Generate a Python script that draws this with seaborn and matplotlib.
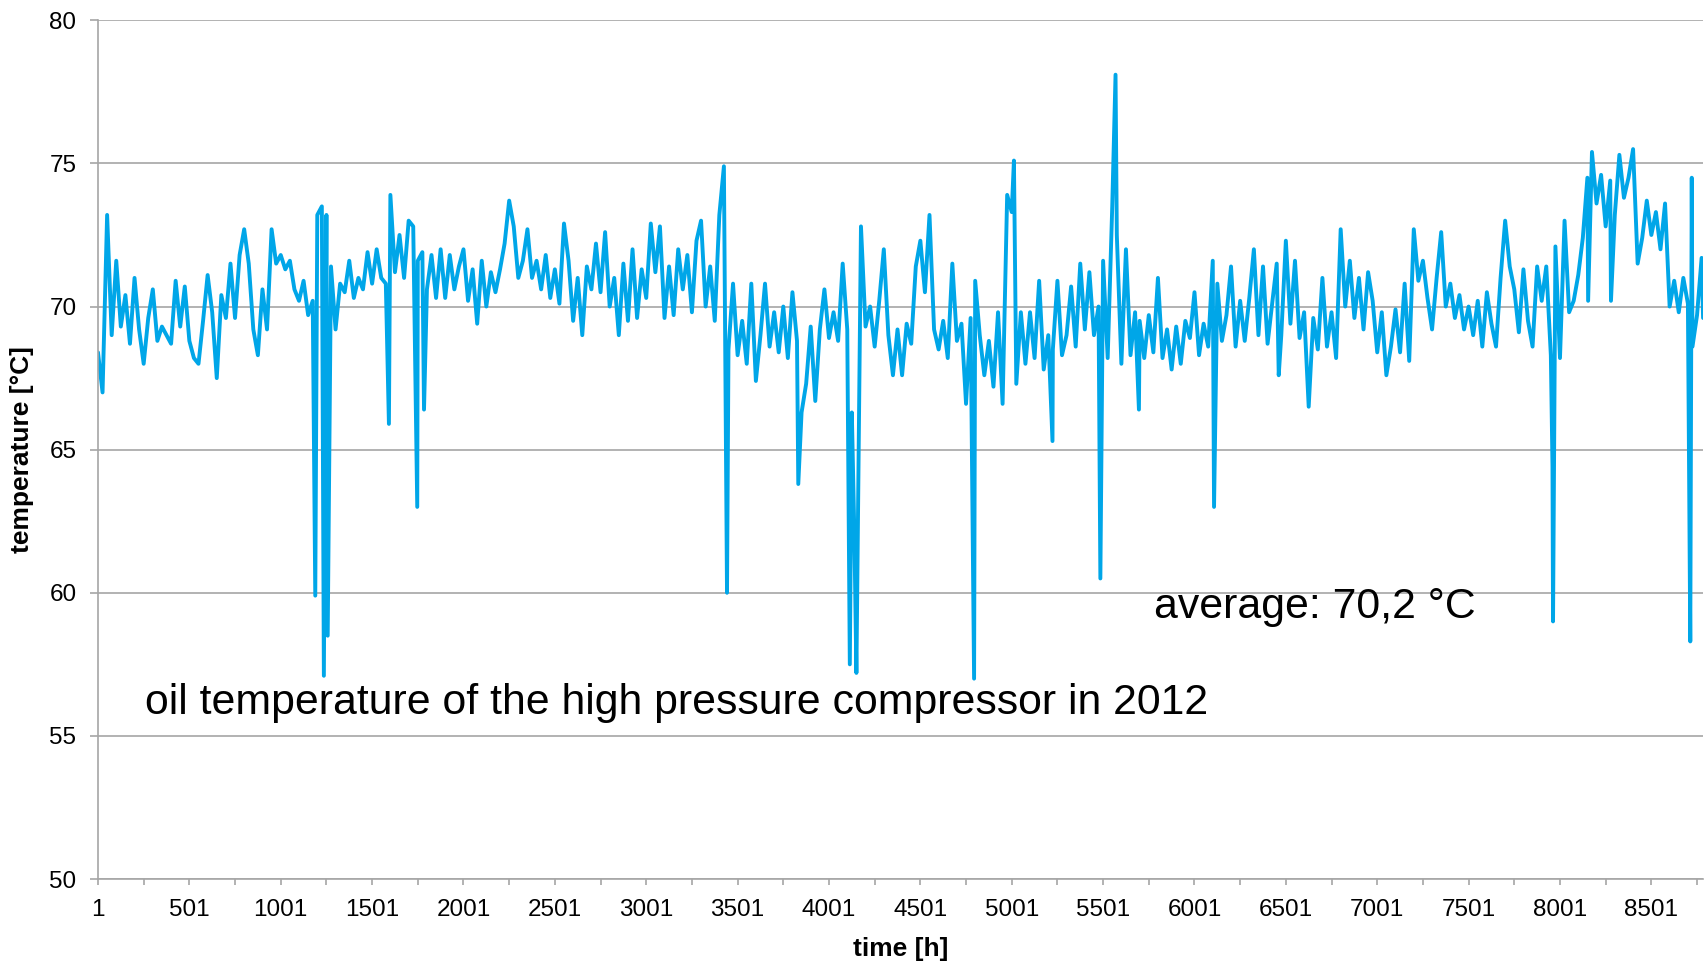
import numpy as np
import pandas as pd
import matplotlib
matplotlib.use("Agg")
import matplotlib.pyplot as plt
import seaborn as sns

# oil temperature [°C], one reading every 25 h, one list per 1000 h block
step_h = 25
temp_0001 = [68.4, 67.0, 73.2, 69.0, 71.6, 69.3, 70.4, 68.7, 71.0, 69.2,
             68.0, 69.6, 70.6, 68.8, 69.3, 69.0, 68.7, 70.9, 69.3, 70.7,
             68.8, 68.2, 68.0, 69.5, 71.1, 69.8, 67.5, 70.4, 69.6, 71.5,
             69.6, 71.8, 72.7, 71.5, 69.2, 68.3, 70.6, 69.2, 72.7, 71.5]
temp_1001 = [71.8, 71.3, 71.6, 70.6, 70.2, 70.9, 69.7, 70.2, 73.2, 73.5,
             73.2, 71.4, 69.2, 70.8, 70.5, 71.6, 70.3, 71.0, 70.6, 71.9,
             70.8, 72.0, 71.0, 70.8, 73.9, 71.2, 72.5, 71.0, 73.0, 72.8,
             71.6, 71.9, 70.6, 71.8, 70.3, 72.0, 70.3, 71.8, 70.6, 71.4]
temp_2001 = [72.0, 70.2, 71.3, 69.4, 71.6, 70.0, 71.2, 70.5, 71.3, 72.2,
             73.7, 72.8, 71.0, 71.6, 72.7, 71.0, 71.6, 70.6, 71.8, 70.3,
             71.3, 70.1, 72.9, 71.6, 69.5, 71.0, 69.0, 71.4, 70.6, 72.2,
             70.5, 72.6, 70.0, 71.0, 69.0, 71.5, 69.5, 72.0, 69.6, 71.3]
temp_3001 = [70.3, 72.9, 71.2, 72.8, 69.6, 71.4, 69.7, 72.0, 70.6, 71.8,
             69.8, 72.3, 73.0, 70.0, 71.4, 69.5, 73.2, 74.9, 68.5, 70.8,
             68.3, 69.5, 68.0, 70.8, 67.4, 69.0, 70.8, 68.6, 69.8, 68.4,
             70.0, 68.2, 70.5, 68.8, 66.3, 67.3, 69.3, 66.7, 69.2, 70.6]
temp_4001 = [68.9, 69.8, 68.8, 71.5, 69.2, 66.3, 57.2, 72.8, 69.3, 70.0,
             68.6, 70.2, 72.0, 69.0, 67.6, 69.2, 67.6, 69.4, 68.7, 71.4,
             72.3, 70.5, 73.2, 69.2, 68.5, 69.5, 68.2, 71.5, 68.8, 69.4,
             66.6, 69.6, 70.9, 69.0, 67.6, 68.8, 67.2, 69.8, 66.6, 73.9]
temp_5001 = [73.3, 67.3, 69.8, 68.0, 69.8, 68.2, 70.9, 67.8, 69.0, 68.5,
             70.9, 68.3, 69.0, 70.7, 68.6, 71.5, 69.2, 71.2, 69.0, 70.0,
             71.6, 68.2, 73.5, 72.5, 68.0, 72.0, 68.3, 69.8, 69.5, 68.2,
             69.7, 68.4, 71.0, 68.2, 69.2, 67.8, 69.3, 68.0, 69.5, 68.9]
temp_6001 = [70.5, 68.3, 69.4, 68.6, 71.6, 70.8, 68.8, 69.7, 71.4, 68.6,
             70.2, 68.8, 70.3, 72.0, 69.0, 71.4, 68.7, 70.1, 71.5, 69.0,
             72.3, 69.4, 71.6, 68.9, 69.8, 66.5, 69.6, 68.5, 71.0, 68.6,
             69.8, 68.2, 72.7, 70.0, 71.6, 69.6, 71.0, 69.2, 71.2, 70.2]
temp_7001 = [68.4, 69.8, 67.6, 68.6, 69.9, 68.4, 70.8, 68.1, 72.7, 70.9,
             71.6, 70.3, 69.2, 71.0, 72.6, 70.0, 70.8, 69.6, 70.4, 69.2,
             70.0, 69.0, 70.2, 68.6, 70.5, 69.4, 68.6, 71.0, 73.0, 71.4,
             70.6, 69.1, 71.3, 69.5, 68.6, 71.4, 70.2, 71.4, 68.3, 72.1]
temp_8001 = [68.2, 73.0, 69.8, 70.2, 71.1, 72.4, 74.5, 75.4, 73.6, 74.6,
             72.8, 74.4, 73.2, 75.3, 73.8, 74.5, 75.5, 71.5, 72.4, 73.7,
             72.5, 73.3, 72.0, 73.6, 70.0, 70.9, 69.8, 71.0, 70.1, 68.6,
             69.7, 71.7]

# single-hour drops and peaks between the 25 h readings
event_hours = [1190, 1237, 1258, 1593, 1748, 1785, 3443, 3833, 4115, 4140,
               4795, 5013, 5224, 5486, 5569, 5697, 6108, 6462, 7960, 7963,
               8155, 8280, 8714, 8722, 8784]
event_values = [59.9, 57.1, 58.5, 65.9, 63.0, 66.4, 60.0, 63.8, 57.5, 62.0,
                57.0, 75.1, 65.3, 60.5, 78.1, 66.4, 63.0, 67.6, 64.4, 59.0,
                70.2, 70.2, 58.3, 74.5, 69.6]

blocks = [temp_0001, temp_1001, temp_2001, temp_3001, temp_4001,
          temp_5001, temp_6001, temp_7001, temp_8001]

hours, temps = [], []
for i, b in enumerate(blocks):
    hours += list(1 + 1000 * i + step_h * np.arange(len(b)))
    temps += b
hours += event_hours
temps += event_values
df = pd.DataFrame({"hour": hours, "temp": temps}).sort_values("hour")

sns.set_theme(style="white")
plt.rcParams["font.family"] = ["Liberation Sans", "DejaVu Sans"]
plt.rcParams["text.color"] = "black"
plt.rcParams["axes.labelcolor"] = "black"

fig = plt.figure(figsize=(17.07, 9.67), dpi=100)
ax = fig.add_axes([0.0574, 0.091, 0.9403, 0.888])

sns.lineplot(data=df, x="hour", y="temp", ax=ax, color="#00A6E8",
             linewidth=2.8, estimator=None, sort=True)

ax.set_xlim(1, 8784)
ax.set_ylim(50, 80)
ax.set_yticks(np.arange(50, 81, 5))
ax.set_xticks(np.arange(1, 8785, 500))
ax.set_xticks(np.arange(251, 8785, 500), minor=True)
ax.yaxis.grid(True, color="#A6A6A6", linewidth=1.2)
ax.set_axisbelow(True)

for s in ["top", "right"]:
    ax.spines[s].set_visible(False)
for s in ["left", "bottom"]:
    ax.spines[s].set_color("#A6A6A6")
    ax.spines[s].set_linewidth(1.2)

ax.tick_params(axis="both", which="both", direction="out", color="#A6A6A6",
               width=1.2, labelsize=17.5, labelcolor="black")
ax.tick_params(axis="y", which="major", length=5.5, pad=10, left=True)
ax.tick_params(axis="x", which="both", length=4.5, pad=10, bottom=True)

ax.set_ylabel("temperature [°C]", fontsize=19, fontweight="bold")
ax.yaxis.set_label_coords(-0.040, 0.5)
ax.set_xlabel("time [h]", fontsize=19, fontweight="bold", va="top")
ax.xaxis.set_label_coords(0.5, -0.068)

ax.text(259, 56.15, "oil temperature of the high pressure compressor in 2012",
        fontsize=30.8, ha="left", va="center", color="black")
ax.text(5780, 59.5, "average: 70,2 °C", fontsize=30.8, ha="left", va="center",
        color="black")

plt.savefig("out.png", dpi=100)
